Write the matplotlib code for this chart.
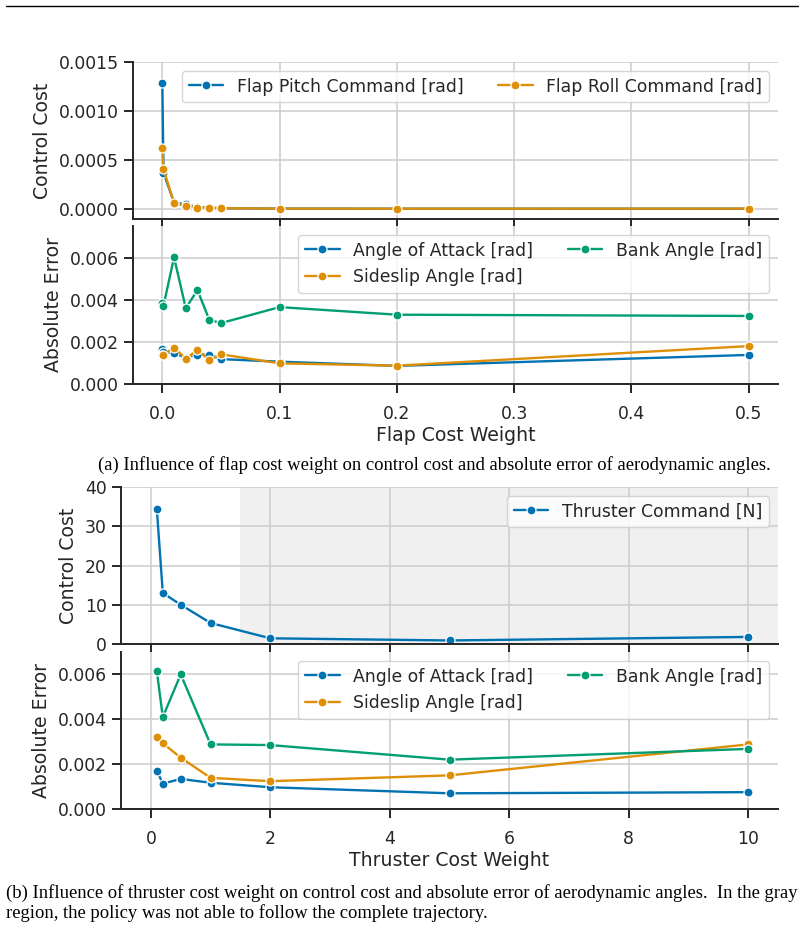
import numpy as np
import matplotlib
matplotlib.use("Agg")
import matplotlib.pyplot as plt
import seaborn as sns

# 数据：襟翼代价权重
flap_w = [0.0, 0.001, 0.01, 0.02, 0.03, 0.04, 0.05, 0.1, 0.2, 0.5]
flap_pitch_cmd = [0.00129, 0.00037, 0.00007, 0.00005, 0.00002, 0.000015, 0.00001, 0.000006, 0.000005, 0.000005]
flap_roll_cmd = [0.00062, 0.00041, 0.00006, 0.000035, 0.000015, 0.000015, 0.00001, 0.000006, 0.000005, 0.000006]
flap_aoa = [0.00168, 0.00150, 0.00146, 0.00125, 0.00138, 0.00140, 0.00118, 0.00106, 0.00086, 0.00138]
flap_sideslip = [0.00138, 0.00140, 0.00173, 0.00120, 0.00162, 0.00113, 0.00141, 0.00098, 0.00087, 0.00180]
flap_bank = [0.00384, 0.00371, 0.00601, 0.00360, 0.00446, 0.00305, 0.00289, 0.00365, 0.00329, 0.00323]

# 数据：推进器代价权重
thr_w = [0.1, 0.2, 0.5, 1.0, 2.0, 5.0, 10.0]
thr_cmd = [34.3, 13.0, 10.0, 5.35, 1.45, 0.9, 1.8]
thr_aoa = [0.00171, 0.00113, 0.00134, 0.00117, 0.00097, 0.00070, 0.00075]
thr_sideslip = [0.00320, 0.00293, 0.00229, 0.00139, 0.00124, 0.00150, 0.00288]
thr_bank = [0.00614, 0.00410, 0.00600, 0.00288, 0.00285, 0.00220, 0.00268]

sns.set_theme(context="notebook", style="ticks", font_scale=1.13,
              rc={"axes.grid": True, "grid.color": ".8",
                  "axes.linewidth": 1.4, "xtick.major.width": 1.4, "ytick.major.width": 1.4,
                  "xtick.major.size": 6.8, "ytick.major.size": 6.8,
                  "xtick.major.pad": 8, "axes.labelpad": 5,
                  "grid.linewidth": 1.1})
plt.rcParams['font.family'] = ['DejaVu Sans']

blue, orange, green = "#0173b2", "#de8f05", "#029e73"

W, H = 804, 930
fig = plt.figure(figsize=(W / 100, H / 100), dpi=100)


def px(l, t, r, b):
    return [l / W, 1 - b / H, (r - l) / W, (b - t) / H]


def line(ax, x, y, c, lab):
    ax.plot(x, y, color=c, lw=1.7, marker="o", ms=6.5, mec="white", mew=0.9, label=lab)


# (a) 上图
ax1 = fig.add_axes(px(133, 62, 778, 219))
line(ax1, flap_w, flap_pitch_cmd, blue, "Flap Pitch Command [rad]")
line(ax1, flap_w, flap_roll_cmd, orange, "Flap Roll Command [rad]")
ax1.set_xlim(-0.025, 0.525)
ax1.set_ylim(-0.0001, 0.0015)
ax1.set_yticks([0, 0.0005, 0.001, 0.0015])
ax1.yaxis.set_major_formatter(matplotlib.ticker.FormatStrFormatter("%.4f"))
ax1.set_xticks([0, 0.1, 0.2, 0.3, 0.4, 0.5])
ax1.tick_params(labelbottom=False)
ax1.set_ylabel("Control Cost")
ax1.legend(loc="upper right", ncol=2)
sns.despine(ax=ax1)

# (a) 下图
ax2 = fig.add_axes(px(133, 226, 778, 384))
line(ax2, flap_w, flap_aoa, blue, "Angle of Attack [rad]")
line(ax2, flap_w, flap_sideslip, orange, "Sideslip Angle [rad]")
line(ax2, flap_w, flap_bank, green, "Bank Angle [rad]")
ax2.set_xlim(-0.025, 0.525)
ax2.set_ylim(0, 0.0075)
ax2.set_yticks([0, 0.002, 0.004, 0.006])
ax2.yaxis.set_major_formatter(matplotlib.ticker.FormatStrFormatter("%.3f"))
ax2.set_xticks([0, 0.1, 0.2, 0.3, 0.4, 0.5])
ax2.xaxis.set_major_formatter(matplotlib.ticker.FormatStrFormatter("%.1f"))
ax2.set_xlabel("Flap Cost Weight", labelpad=2.5)
ax2.set_ylabel("Absolute Error")
ax2.legend(loc="upper right", ncol=2)
sns.despine(ax=ax2)

# (b) 上图，灰色区域表示无法跟随完整轨迹
ax3 = fig.add_axes(px(121, 487, 778, 644))
ax3.axvspan(1.5, 10.5, color="#f0f0f0", zorder=0, lw=0)
line(ax3, thr_w, thr_cmd, blue, "Thruster Command [N]")
ax3.set_xlim(-0.5, 10.5)
ax3.set_ylim(0, 40)
ax3.set_yticks([0, 10, 20, 30, 40])
ax3.set_xticks([0, 2, 4, 6, 8, 10])
ax3.tick_params(labelbottom=False)
ax3.set_ylabel("Control Cost")
ax3.legend(loc="upper right")
sns.despine(ax=ax3)

# (b) 下图
ax4 = fig.add_axes(px(121, 652, 778, 809))
line(ax4, thr_w, thr_aoa, blue, "Angle of Attack [rad]")
line(ax4, thr_w, thr_sideslip, orange, "Sideslip Angle [rad]")
line(ax4, thr_w, thr_bank, green, "Bank Angle [rad]")
ax4.set_xlim(-0.5, 10.5)
ax4.set_ylim(0, 0.007)
ax4.set_yticks([0, 0.002, 0.004, 0.006])
ax4.yaxis.set_major_formatter(matplotlib.ticker.FormatStrFormatter("%.3f"))
ax4.set_xticks([0, 2, 4, 6, 8, 10])
ax4.set_xlabel("Thruster Cost Weight", labelpad=2.5)
ax4.set_ylabel("Absolute Error")
ax4.legend(loc="upper right", ncol=2)
sns.despine(ax=ax4)

# 页面元素：顶部横线与图注
fig.add_artist(matplotlib.lines.Line2D([6 / W, 798 / W], [1 - 6 / H, 1 - 6 / H], color="black", lw=1))
cap = dict(family="Liberation Serif", fontsize=13.4, color="black")
fig.text(434 / W, 1 - 465 / H, "(a) Influence of flap cost weight on control cost and absolute error of aerodynamic angles.",
         ha="center", va="center", **cap)
fig.text(6 / W, 1 - 893 / H, "(b) Influence of thruster cost weight on control cost and absolute error of aerodynamic angles.  In the gray",
         ha="left", va="center", **cap)
fig.text(6 / W, 1 - 913 / H, "region, the policy was not able to follow the complete trajectory.",
         ha="left", va="center", **cap)

fig.savefig("out.png", dpi=100)
